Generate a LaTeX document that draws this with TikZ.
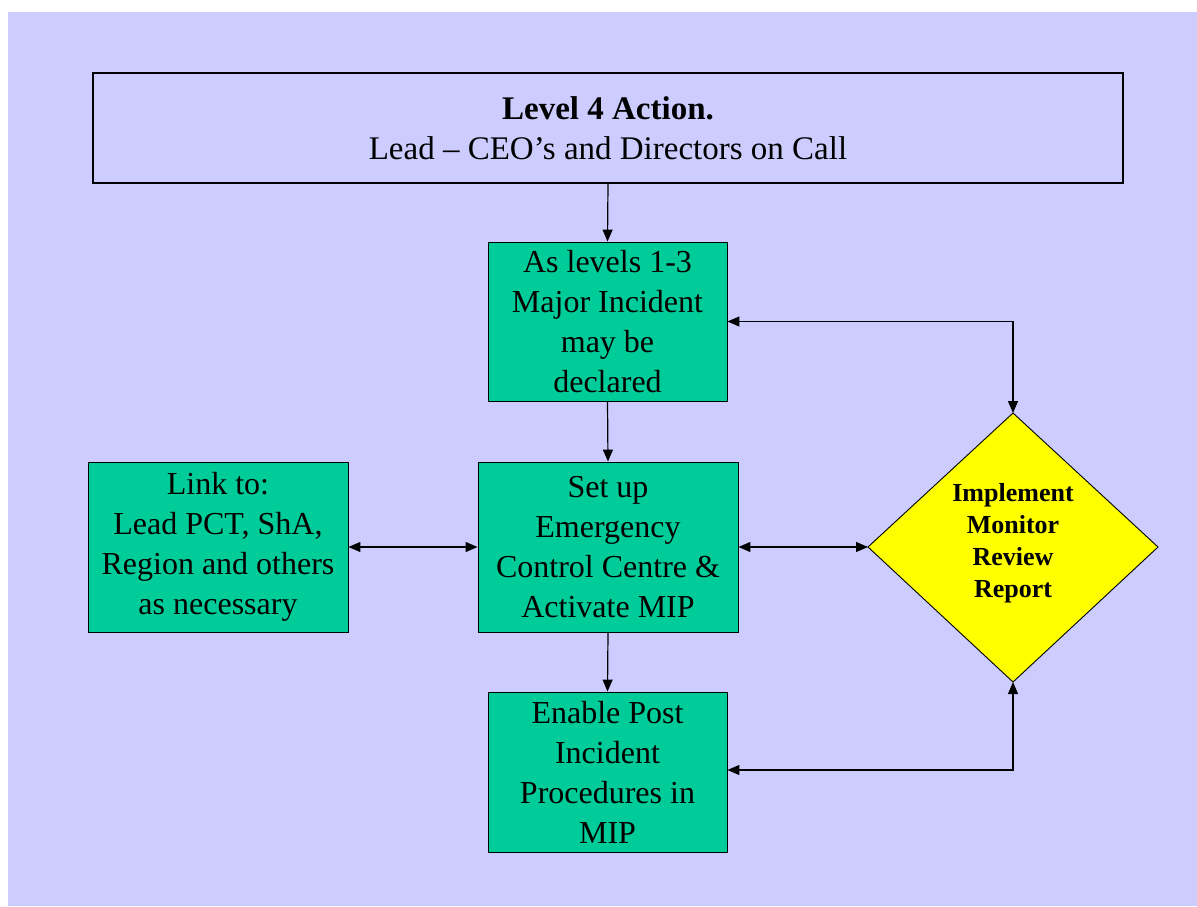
\documentclass[tikz,border=0pt]{standalone}
\usepackage{fontspec}
\setmainfont{Liberation Serif}
\usetikzlibrary{arrows.meta}
\definecolor{bglav}{HTML}{CCCCFF}
\definecolor{boxgreen}{HTML}{00CC99}
\definecolor{diayellow}{HTML}{FFFF00}
\tikzset{
  greenbox/.style={draw=black, line width=0.9pt, fill=boxgreen, align=center, inner sep=0pt,
    font=\fontsize{32}{40}\selectfont},
  conn/.style={line width=1.2pt, -{Triangle[length=12pt,width=10pt]}},
  bconn/.style={line width=1.2pt, {Triangle[length=12pt,width=10pt]}-{Triangle[length=12pt,width=10pt]}},
}
\begin{document}
\begin{tikzpicture}[x=1pt,y=-1pt]
\useasboundingbox (0,0) rectangle (1197,906);
\fill[bglav] (8,12) rectangle (1197,906);
% top box
\node[draw=black, line width=2pt, minimum width=1030pt, minimum height=110pt, align=center, inner sep=0pt,
  font=\fontsize{33}{40}\selectfont] (top) at (608,128)
  {\textbf{Level 4 Action.}\\Lead -- CEO’s and Directors on Call};
% green boxes
\node[greenbox, minimum width=239pt, minimum height=159pt] (A) at (607.5,321.5)
  {As levels 1-3\\Major Incident\\may be\\declared};
\node[greenbox, minimum width=260pt, minimum height=170pt] (B) at (608,547)
  {Set up\\Emergency\\Control Centre \&\\Activate MIP};
\node[greenbox, minimum width=260pt, minimum height=170pt] (C) at (218,547)
  {Link to:\\Lead PCT, ShA,\\Region and others\\as necessary};
\node[greenbox, minimum width=239pt, minimum height=160pt] (D) at (607.5,772)
  {Enable Post\\Incident\\Procedures in\\MIP};
% diamond
\coordinate (dl) at (868,547);
\coordinate (dr) at (1158,547);
\coordinate (dt) at (1013,413);
\coordinate (db) at (1013,682);
\filldraw[fill=diayellow, draw=black, line width=0.9pt] (dl) -- (dt) -- (dr) -- (db) -- cycle;
\node[align=center, inner sep=0pt, font=\fontsize{26}{32}\selectfont\bfseries] (dm) at (1013,543)
  {Implement\\Monitor\\Review\\Report};
% connectors
\draw[conn] (top.south) -- (A.north);
\draw[conn] (A.south) -- (B.north);
\draw[conn] (B.south) -- (D.north);
\draw[bconn] (C.east) -- (B.west);
\draw[bconn] (B.east) -- (dl);
\draw[bconn] (A.east) -| (dt);
\draw[bconn] (D.east |- 0,770) -| (db);
\end{tikzpicture}
\end{document}
